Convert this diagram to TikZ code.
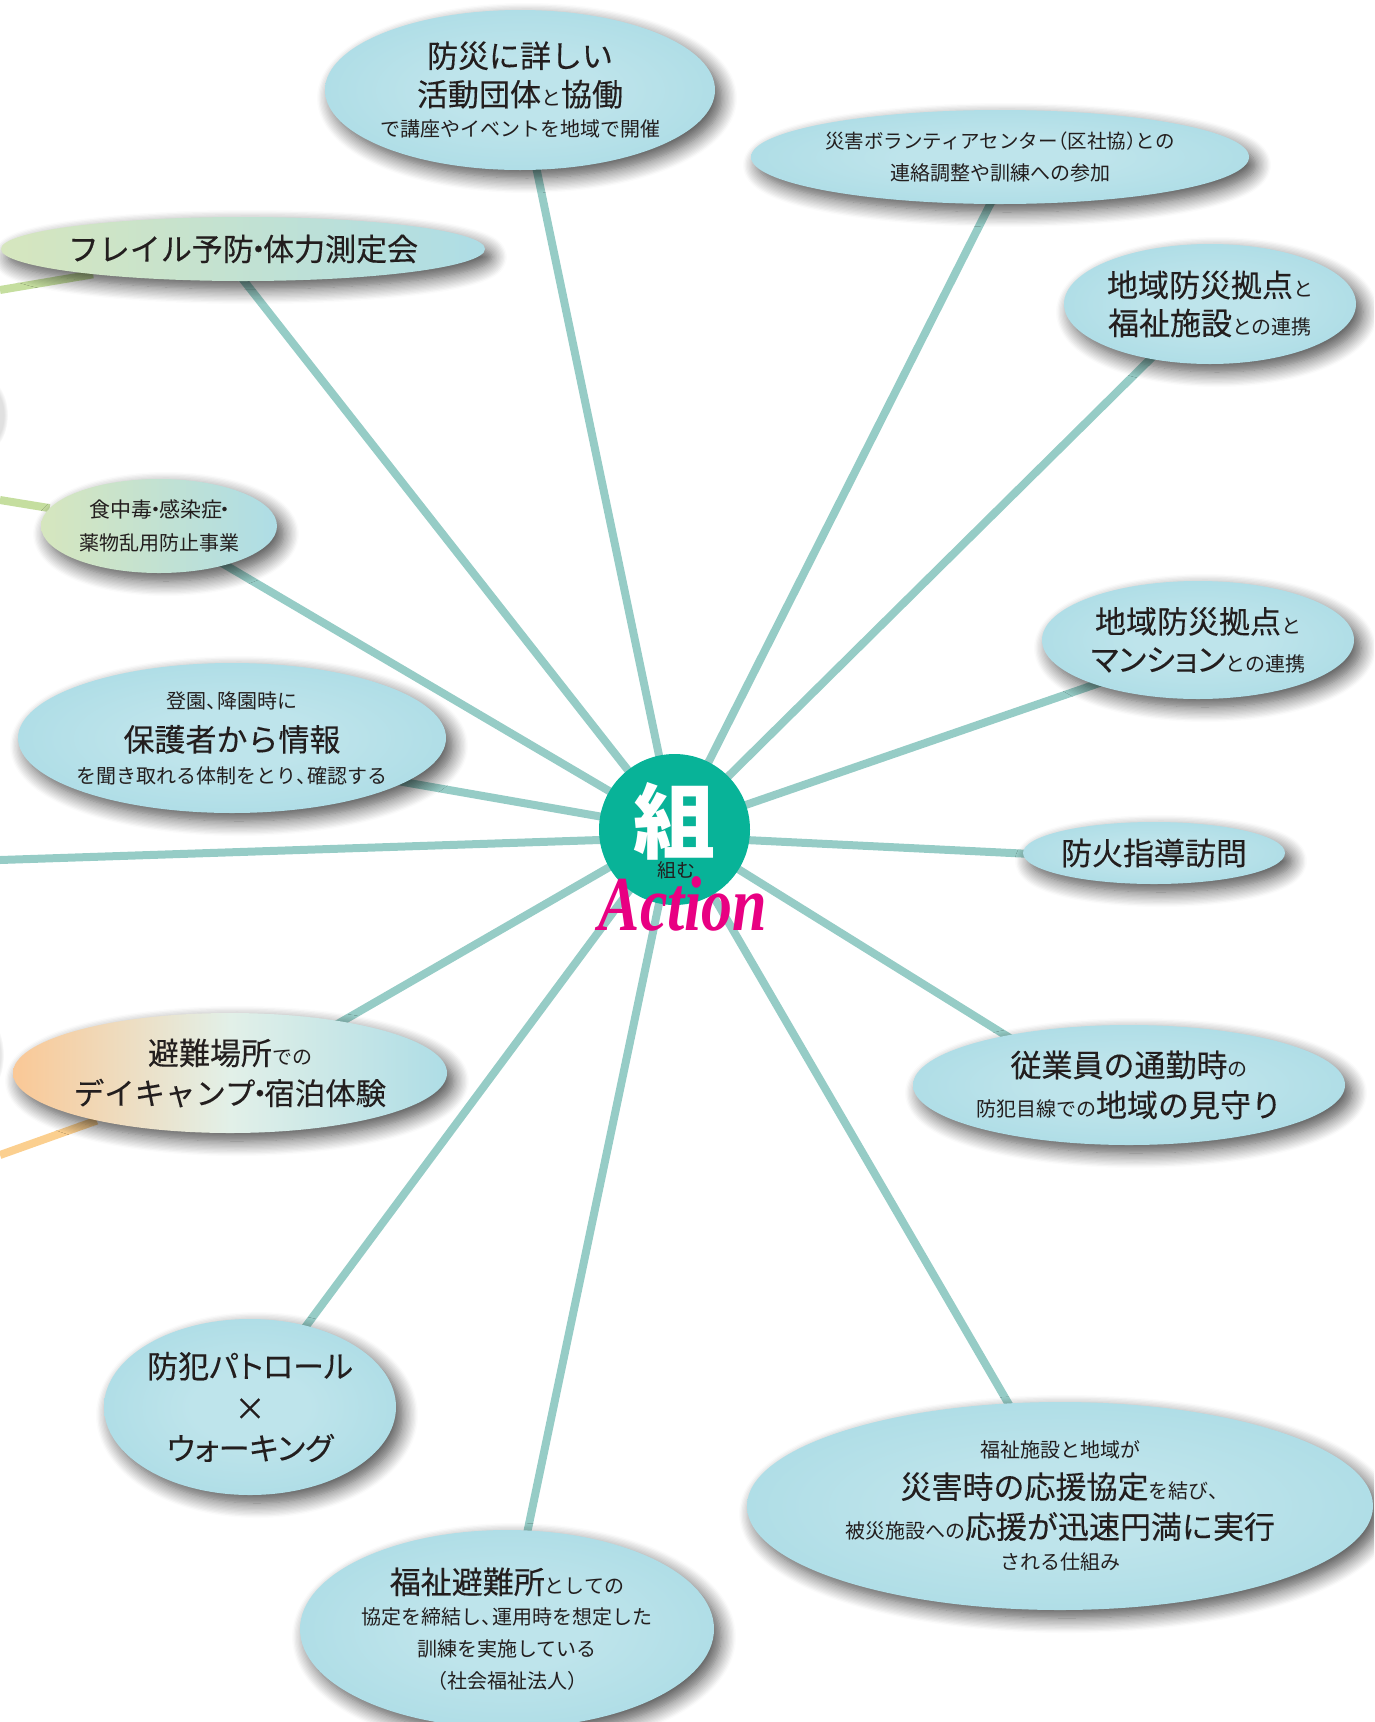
\documentclass[tikz,border=0pt]{standalone}
\usepackage{fontspec}
\usepackage{tikz}
\usetikzlibrary{shapes.geometric,shadows.blur,fadings,backgrounds}

\setmainfont{Noto Sans CJK JP}
\newfontfamily\bigface{Noto Sans CJK JP}[FakeBold=0.25]
\newfontfamily\kanaface{Noto Sans CJK JP}[FakeBold=0.25,RawFeature=+palt]
\newfontfamily\actionfont{Liberation Serif}

\definecolor{rayblue}{RGB}{150,204,198}
\definecolor{raygreen}{RGB}{197,222,159}
\definecolor{rayorange}{RGB}{251,207,143}
\definecolor{hubgreen}{RGB}{8,179,152}
\definecolor{actionpink}{RGB}{232,0,130}
\definecolor{bubblemid}{RGB}{190,228,235}
\definecolor{bubblering}{RGB}{174,221,230}
\definecolor{bubbleout}{RGB}{188,228,236}
\definecolor{greenleft}{RGB}{214,230,190}
\definecolor{orangeleft}{RGB}{250,200,150}
\definecolor{campmid}{RGB}{226,240,232}
\definecolor{inkdark}{RGB}{35,30,30}

\pgfdeclareradialshading{bubbleshade}{\pgfpointorigin}{color(0bp)=(bubblemid); color(10bp)=(bubblemid); color(27bp)=(bubblering); color(50bp)=(bubbleout)}

% Font sizes of the mixed lines
\def\bigt#1{{\bigface\fontsize{31}{40}\selectfont #1}}
\def\kanat#1{{\kanaface\fontsize{31}{40}\selectfont #1}}
\def\smt#1{{\fontsize{20}{32}\selectfont #1}}
\def\midot{\kern-.35em・\kern-.35em}
\def\tten{、\kern-.45em}
\def\lparen{\kern-.5em（}
\def\rparen{）\kern-.5em}

\tikzset{
  bubble/.style={ellipse, inner sep=-22pt, align=center, text=inkdark,
    font=\fontsize{20}{32}\selectfont,
    blur shadow={shadow xshift=7pt, shadow yshift=-8pt, shadow blur radius=15pt,
      shadow blur steps=12, shadow opacity=70},
    shading=bubbleshade},
  greenbubble/.style={bubble, left color=greenleft, right color=bubblering},
  orangebubble/.style={bubble, left color=orangeleft, right color=bubblering, middle color=campmid},
  ray/.style={line width=8pt, draw=rayblue},
  size/.style 2 args={minimum width=2*#1 pt, minimum height=2*#2 pt}
}

\begin{document}
\begin{tikzpicture}[x=1pt,y=-1pt]
\useasboundingbox (0,0) rectangle (1374,1722);
\clip (0,0) rectangle (1374,1722);

% Bubbles, clockwise from the top
\node[bubble, size={195}{80}] (partners) at (520,90)
  {\bigt{防災に詳しい}\\[6.5pt]\bigt{活動団体}\smt{と}\bigt{協働}\\[-1pt]で講座やイベントを地域で開催};
\node[bubble, size={249}{47}] (volunteer) at (1000,157)
  {\fontsize{19.5}{32}\selectfont 災害ボランティアセンター\lparen 区社協\rparen との\\連絡調整や訓練への参加};
\node[bubble, size={146}{60}] (welfarebase) at (1210,304)
  {\bigt{地域防災拠点}\smt{と}\\[6pt]\bigt{福祉施設}\smt{との連携}};
\node[bubble, size={156}{59}] (mansion) at (1198,640)
  {\bigt{地域防災拠点}\smt{と}\\[6pt]\kanat{マンション}\smt{との連携}};
\node[bubble, size={131}{31}] (fireguide) at (1154,853) {\bigt{防火指導訪問}};
\node[bubble, size={216}{60}] (commute) at (1129,1085)
  {\bigt{従業員の通勤時}\smt{の}\\[8pt]\smt{防犯目線での}\bigt{地域の見守り}};
\node[bubble, size={313}{104}] (agreement) at (1060,1506)
  {福祉施設と地域が\\[9pt]\bigt{災害時の応援協定}\smt{を結び\tten}\\[8pt]\smt{被災施設への}\bigt{応援が迅速円満に実行}\\[-.5pt]される仕組み};
\node[bubble, size={207}{99}] (shelter) at (507,1629)
  {\bigt{福祉避難所}\smt{としての}\\[-1pt]協定を締結し\tten 運用時を想定した\\訓練を実施している\\\lparen 社会福祉法人\rparen};
\node[bubble, size={146}{88}] (patrol) at (250,1407)
  {\kanat{防犯パトロール}\\[10pt]\bigt{×}\\[8pt]\kanat{ウォーキング}};
\node[orangebubble, size={217}{60}] (camp) at (230,1073)
  {\bigt{避難場所}\smt{での}\\[8pt]{\bigface\fontsize{30.4}{40}\selectfont デイキャンプ\midot 宿泊体験}};
\node[bubble, size={214}{75}] (parents) at (232,738)
  {登園\tten 降園時に\\[11pt]\bigt{保護者から情報}\\[0pt]を聞き取れる体制をとり\tten 確認する};
\node[greenbubble, size={118}{47}] (foodsafe) at (159,526)
  {\fontsize{21}{32}\selectfont 食中毒\midot 感染症\midot\\[1pt]薬物乱用防止事業};
\node[greenbubble, size={242}{32}] (frail) at (243,249)
  {\bigt{フレイル予防\midot 体力測定会}};

% Shadows of the bubbles beyond the left edge
\fill[black, opacity=.12, path fading=circle with fuzzy edge 20 percent] (-14,415) ellipse (22 and 36);
\fill[black, opacity=.1, path fading=circle with fuzzy edge 20 percent] (-14,1055) ellipse (18 and 36);

% Hub
\node[circle, fill=hubgreen, minimum size=151pt, inner sep=-20pt, text=white,
  font=\fontsize{82}{82}\bfseries\selectfont] (hub) at (674.5,829.5)
  {\raisebox{25pt}{組}};
\node[text=inkdark, font=\fontsize{19}{19}\selectfont] (hublabel) at (676,870) {組む};
\node[text=actionpink, font=\fontsize{72}{72}\actionfont\bfseries\itshape\selectfont] (action) at (683,904)
  {\scalebox{.86}[1.08]{Action}};

% Free ends running off the page
\coordinate (leftend) at (0,860);
\coordinate (frailend) at (0,290);
\coordinate (foodend) at (0,500);
\coordinate (campend) at (0,1155);

% Draw the rays
\begin{scope}[on background layer]
\foreach \n/\dx/\dy in {partners/0/0,volunteer/14/0,welfarebase/-4/0,mansion/0/-9,commute/0/-27,agreement/8/0,shelter/0/0,patrol/-4/0,camp/0/-13,parents/0/-14,foodsafe/0/0,frail/-24/0}
{
  \draw[ray] (hub.center) -- ([shift={(\dx pt,\dy pt)}]\n.center);
}
\draw[ray] ([yshift=-8pt]hub.center) -- (leftend);
\draw[ray] ([yshift=-7pt]hub.center) -- ([yshift=-7pt]fireguide.center);
\draw[ray, draw=raygreen] (frail) -- (frailend);
\draw[ray, draw=raygreen] (foodsafe) -- (foodend);
\draw[ray, draw=rayorange] (camp) -- (campend);
\end{scope}

\end{tikzpicture}
\end{document}
